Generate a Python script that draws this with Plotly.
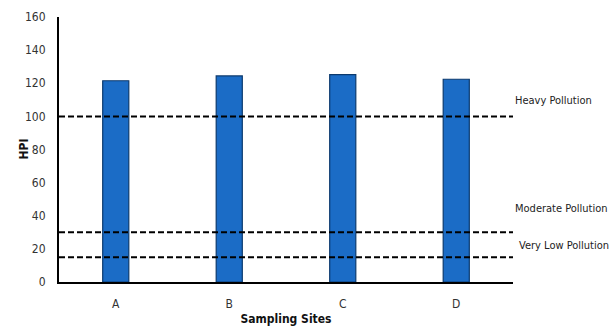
import plotly.graph_objects as go

# Heavy metal pollution index per sampling site
sites = ["A", "B", "C", "D"]
hpi = [121.5, 124.4, 125.2, 122.4]

# Pollution class thresholds and their labels
thresholds = [100, 30, 15]
threshold_labels = ["Heavy Pollution", "Moderate Pollution", "Very Low Pollution"]
label_levels = [109.5, 44.5, 22.3]

y_ticks = [0, 20, 40, 60, 80, 100, 120, 140, 160]

FONT = "DejaVu Sans Condensed, Liberation Sans, sans-serif"

fig = go.Figure()
fig.add_trace(go.Bar(
    x=sites, y=hpi, width=0.23,
    marker=dict(color="#1b6cc6", line=dict(color="#0c3a6e", width=1.2)),
))

shapes = []
for t in thresholds:
    shapes.append(dict(type="line", xref="paper", yref="y", x0=0, x1=1, y0=t, y1=t,
                       line=dict(color="black", width=2, dash="6px,3px")))

annotations = []
for i, (lab, lv) in enumerate(zip(threshold_labels, label_levels)):
    annotations.append(dict(xref="paper", yref="y", x=1.0, y=lv, text=lab,
                            showarrow=False, xanchor="left", xshift=(4 if i == 2 else 0),
                            font=dict(size=11, color="#222", family=FONT)))

# vertical axis title
annotations.append(dict(xref="paper", yref="paper", x=0, y=0.5, xshift=-36,
                        text="<b>HPI</b>", textangle=-90, showarrow=False,
                        xanchor="center", yanchor="middle",
                        font=dict(size=12, family=FONT, color="#111")))

fig.update_layout(
    width=613, height=329,
    margin=dict(l=59, r=100, t=17, b=47, autoexpand=False),
    paper_bgcolor="white", plot_bgcolor="white",
    showlegend=False, bargap=0.77,
    shapes=shapes, annotations=annotations,
    font=dict(family=FONT, size=12, color="#333"),
    xaxis=dict(showline=True, linecolor="black", linewidth=2, showgrid=False,
               automargin=False, ticks="", ticklabelstandoff=10,
               tickfont=dict(size=12, family=FONT),
               title=dict(text="<b>Sampling Sites</b>", standoff=4,
                          font=dict(size=12, family=FONT, color="#111"))),
    yaxis=dict(range=[0, 160], tickvals=y_ticks, showline=True, linecolor="black",
               linewidth=2, showgrid=False, zeroline=False, ticks="",
               automargin=False, ticklabelstandoff=9,
               tickfont=dict(size=12, family=FONT)),
)

fig.write_html("out.html")
